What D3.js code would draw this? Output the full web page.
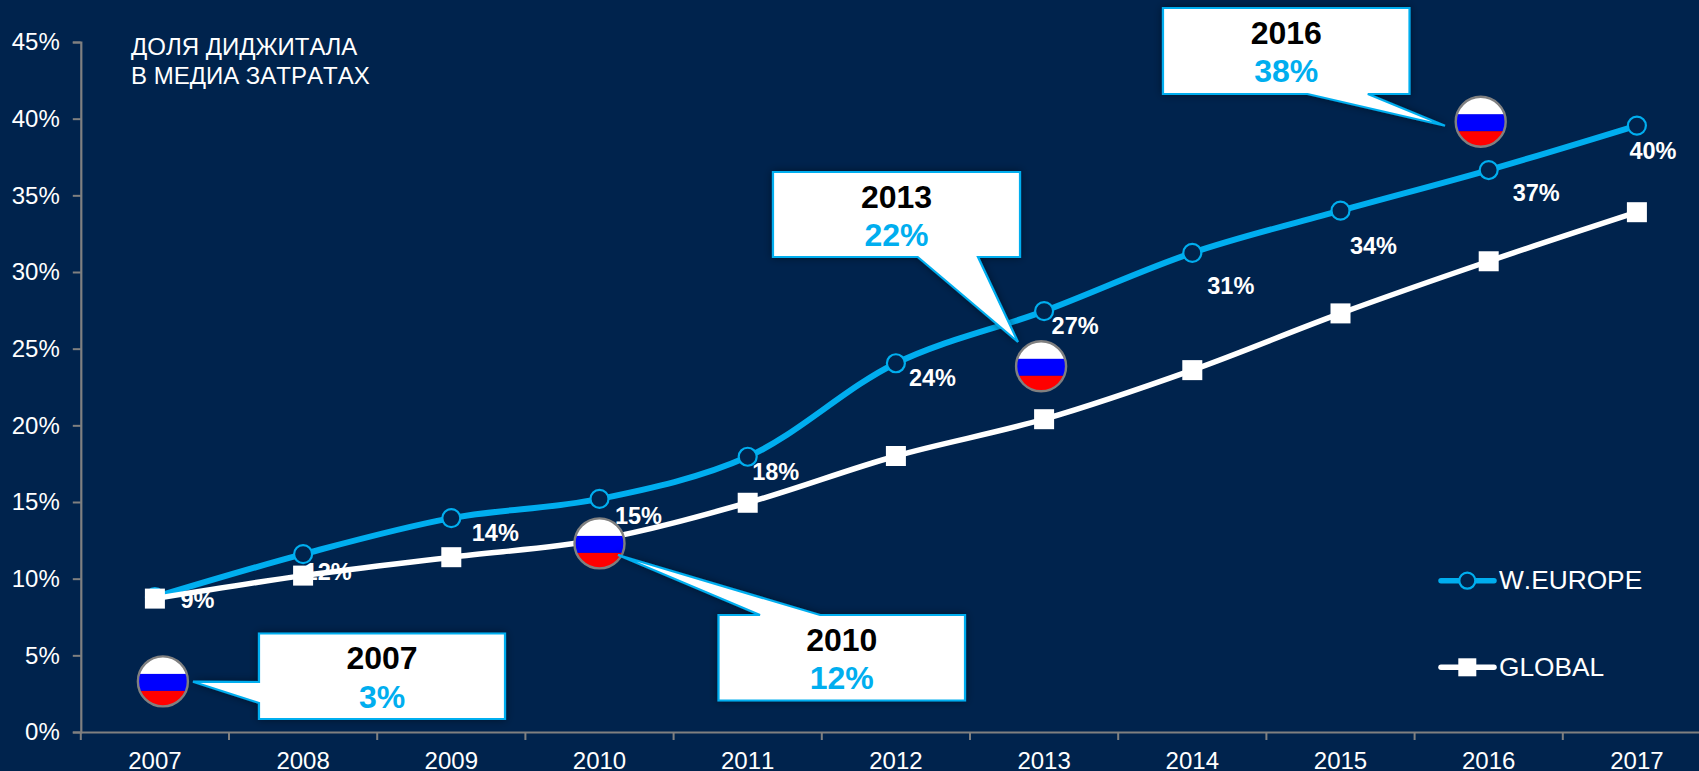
<!DOCTYPE html>
<html><head><meta charset="utf-8">
<script src="https://cdnjs.cloudflare.com/ajax/libs/d3/7.8.5/d3.min.js"></script>
<style>
html,body{margin:0;padding:0;background:#00234d;overflow:hidden}
svg{display:block}
text{font-family:"Liberation Sans",Arial,sans-serif;font-kerning:none}
</style></head><body>
<svg id="c" width="1699" height="771"></svg>
<script>
const years=[2007,2008,2009,2010,2011,2012,2013,2014,2015,2016,2017];
const wEurope=[8.8,11.6,13.95,15.2,17.95,24.05,27.45,31.25,34.0,36.65,39.55];
const globalShare=[8.7,10.2,11.4,12.55,14.95,18.0,20.4,23.6,27.3,30.7,33.9];
const yTicks=[0,5,10,15,20,25,30,35,40,45];
const pointLabels=["9%","12%","14%","15%","18%","24%","27%","31%","34%","37%","40%"];
const titleLines=["ДОЛЯ ДИДЖИТАЛА","В МЕДИА ЗАТРАТАХ"];
const calloutYears=[2007,2010,2013,2016];
const calloutValues=["3%","12%","22%","38%"];
const seriesNames=["W.EUROPE","GLOBAL"];

// layout (separate from data)
const BG="#00234d",BLUE="#00aeef",GRAY="#808080";
const labelOffsets=[[42.6,11],[25,26],[44,22.6],[39,25],[28,23],[36.5,23],[31,23],[38.5,41],[33,43],[47.5,31],[16,33]];
const flagLevels=[3.3,12.3,23.85,39.8], flagDx=[8,0,-3,-8];
const boxes=[
 {x:259,y:633.5,w:246,h:85.5,tail:[[259,682],[193,681.7],[259,703]]},
 {x:718.5,y:615,w:246.5,h:85.5,tail:[[760,615],[618,555],[820,615]]},
 {x:773,y:172,w:247,h:85,tail:[[917.7,257],[1018,342],[978,257]]},
 {x:1163,y:8,w:246.5,h:86,tail:[[1307.6,94],[1445,125.7],[1367.8,94]]}
];

const svg=d3.select("#c");
const defs=svg.append("defs");
const shadow=defs.append("filter").attr("id","sh").attr("x","-10%").attr("y","-20%").attr("width","120%").attr("height","140%");
shadow.append("feDropShadow").attr("dx",0).attr("dy",0).attr("stdDeviation",4).attr("flood-color","#000").attr("flood-opacity",0.45);

const x=d3.scaleBand().domain(years).range([80.8,1711]).padding(0);
const y=d3.scaleLinear().domain([0,45]).range([732,42]);
const cx=d=>x(d)+x.bandwidth()/2;

svg.append("rect").attr("width",1699).attr("height",771).attr("fill",BG);

// axes
const gx=svg.append("g").attr("transform","translate(0,732)")
  .call(d3.axisBottom(x).tickSize(0).tickPadding(20));
gx.select(".domain").attr("stroke",GRAY).attr("stroke-width",2.2);
gx.selectAll("text").attr("fill","#fff").attr("font-size",24).attr("dy",0).attr("y",36.5)
  .attr("font-family",'"Liberation Sans",Arial,sans-serif');
gx.selectAll("line.edge").data(years.map(d=>x(d)).concat([x(2017)+x.bandwidth()])).enter().append("line")
  .attr("class","edge").attr("x1",d=>d).attr("x2",d=>d).attr("y1",0).attr("y2",8)
  .attr("stroke",GRAY).attr("stroke-width",2);

const gy=svg.append("g").attr("transform","translate(80.8,0)")
  .call(d3.axisLeft(y).tickValues(yTicks).tickFormat(d=>d+"%").tickSize(8).tickPadding(13));
gy.select(".domain").attr("stroke",GRAY).attr("stroke-width",2.2);
gy.selectAll("line").attr("stroke",GRAY).attr("stroke-width",2);
gy.selectAll("text").attr("fill","#fff").attr("font-size",24)
  .attr("font-family",'"Liberation Sans",Arial,sans-serif');

// title
svg.append("g").selectAll("text").data(titleLines).enter().append("text")
  .attr("x",131).attr("y",(d,i)=>55+i*29).attr("fill","#fff").attr("font-size",24).text(d=>d);

const line=d3.line().x((d,i)=>cx(years[i])).y(d=>y(d)).curve(d3.curveCatmullRom.alpha(0.5));

// W.Europe
svg.append("path").datum(wEurope).attr("d",line).attr("fill","none").attr("stroke",BLUE).attr("stroke-width",6);
svg.append("g").selectAll("circle").data(wEurope).enter().append("circle")
  .attr("cx",(d,i)=>cx(years[i])).attr("cy",d=>y(d)).attr("r",9)
  .attr("fill",BG).attr("stroke",BLUE).attr("stroke-width",2.2);

// data labels
svg.append("g").selectAll("text").data(pointLabels).enter().append("text")
  .attr("x",(d,i)=>cx(years[i])+labelOffsets[i][0])
  .attr("y",(d,i)=>y(wEurope[i])+labelOffsets[i][1])
  .attr("text-anchor","middle").attr("font-weight","bold").attr("font-size",23.5).attr("fill","#fff").text(d=>d);

// Global
svg.append("path").datum(globalShare).attr("d",line).attr("fill","none").attr("stroke","#fff").attr("stroke-width",5.5);
svg.append("g").selectAll("rect").data(globalShare).enter().append("rect")
  .attr("x",(d,i)=>cx(years[i])-10).attr("y",d=>y(d)-10).attr("width",20).attr("height",20).attr("fill","#fff");

// flags
calloutYears.forEach((yr,i)=>{
  const fx=cx(yr)+flagDx[i], fy=y(flagLevels[i]), r=25;
  const id="fc"+i;
  defs.append("clipPath").attr("id",id).append("circle").attr("cx",fx).attr("cy",fy).attr("r",r);
  const g=svg.append("g").attr("clip-path",`url(#${id})`);
  g.append("rect").attr("x",fx-r).attr("y",fy-r).attr("width",2*r).attr("height",r-7).attr("fill","#fff");
  g.append("rect").attr("x",fx-r).attr("y",fy-7.5).attr("width",2*r).attr("height",17).attr("fill","#0000ff");
  g.append("rect").attr("x",fx-r).attr("y",fy+9.5).attr("width",2*r).attr("height",r).attr("fill","#ff0000");
  svg.append("circle").attr("cx",fx).attr("cy",fy).attr("r",r).attr("fill","none").attr("stroke",GRAY).attr("stroke-width",2.4);
});

// callouts
calloutYears.forEach((yr,i)=>{
  const b=boxes[i];
  const g=svg.append("g");
  const t=b.tail;
  let pts;
  if(t[0][0]===b.x){ // tail on left side
    pts=[[b.x,b.y],[b.x+b.w,b.y],[b.x+b.w,b.y+b.h],[b.x,b.y+b.h],t[2],t[1],t[0]];
  }else if(b.y===t[0][1]){ // tail on top side
    pts=[[b.x,b.y],t[0],t[1],t[2],[b.x+b.w,b.y],[b.x+b.w,b.y+b.h],[b.x,b.y+b.h]];
  }else{ // tail on bottom side
    pts=[[b.x,b.y],[b.x+b.w,b.y],[b.x+b.w,b.y+b.h],t[2],t[1],t[0],[b.x,b.y+b.h]];
  }
  g.append("path").attr("d",d3.line()(pts)+"Z").attr("fill","#fff").attr("stroke",BLUE)
    .attr("stroke-width",2.2).attr("stroke-linejoin","miter").attr("filter","url(#sh)");
  const mid=b.x+b.w/2;
  g.append("text").attr("x",mid).attr("y",b.y+35.7).attr("text-anchor","middle").attr("font-weight","bold")
    .attr("font-size",32).attr("fill","#000").text(yr);
  g.append("text").attr("x",mid).attr("y",b.y+74.2).attr("text-anchor","middle").attr("font-weight","bold")
    .attr("font-size",32).attr("fill",BLUE).text(calloutValues[i]);
});

// legend
const legY=[580.7,667.3], legCol=[BLUE,"#fff"];
seriesNames.forEach((n,i)=>{
  const g=svg.append("g");
  g.append("line").attr("x1",1441).attr("x2",1494).attr("y1",legY[i]).attr("y2",legY[i])
    .attr("stroke",legCol[i]).attr("stroke-width",5.5).attr("stroke-linecap","round");
  if(i===0) g.append("circle").attr("cx",1467.3).attr("cy",legY[i]).attr("r",8).attr("fill",BG).attr("stroke",BLUE).attr("stroke-width",2.2);
  else g.append("rect").attr("x",1458.3).attr("y",legY[i]-9).attr("width",18).attr("height",18).attr("fill","#fff");
  g.append("text").attr("x",1499).attr("y",legY[i]+8.3).attr("fill","#fff").attr("font-size",26.3).text(n);
});
</script>
</body></html>
